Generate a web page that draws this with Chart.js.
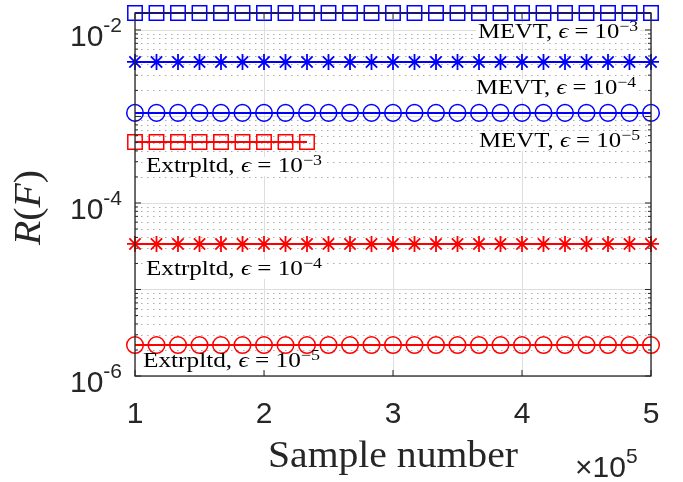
<!DOCTYPE html>
<html>
<head>
<meta charset="utf-8">
<script src="https://cdn.jsdelivr.net/npm/chart.js@4.4.0/dist/chart.umd.min.js"></script>
<style>
html, body { margin: 0; padding: 0; background: #fff; }
#wrap { width: 683px; height: 482px; }
</style>
</head>
<body>
<div id="wrap"><canvas id="chart"></canvas></div>
<script>
/* DATA */

// sample number axis (x)
var sampleNumbers = [100000, 116667, 133333, 150000, 166667, 183333, 200000, 216667, 233333,
    250000, 266667, 283333, 300000, 316667, 333333, 350000, 366667, 383333, 400000,
    416667, 433333, 450000, 466667, 483333, 500000];
var sampleNumbersShort = [100000, 116667, 133333, 150000, 166667, 183333, 200000, 216667, 233333];

// R(F) per series
var mevtEps3 = [0.0157, 0.0157, 0.0157, 0.0157, 0.0157, 0.0157, 0.0157, 0.0157, 0.0157, 0.0157,
    0.0157, 0.0157, 0.0157, 0.0157, 0.0157, 0.0157, 0.0157, 0.0157, 0.0157, 0.0157,
    0.0157, 0.0157, 0.0157, 0.0157, 0.0157];
var mevtEps4 = [0.00427, 0.00427, 0.00427, 0.00427, 0.00427, 0.00427, 0.00427, 0.00427, 0.00427, 0.00427,
    0.00427, 0.00427, 0.00427, 0.00427, 0.00427, 0.00427, 0.00427, 0.00427, 0.00427, 0.00427,
    0.00427, 0.00427, 0.00427, 0.00427, 0.00427];
var mevtEps5 = [0.00110, 0.00110, 0.00110, 0.00110, 0.00110, 0.00110, 0.00110, 0.00110, 0.00110, 0.00110,
    0.00110, 0.00110, 0.00110, 0.00110, 0.00110, 0.00110, 0.00110, 0.00110, 0.00110, 0.00110,
    0.00110, 0.00110, 0.00110, 0.00110, 0.00110];
var extrpEps3 = [0.000507, 0.000507, 0.000507, 0.000507, 0.000507, 0.000507, 0.000507, 0.000507, 0.000507];
var extrpEps4 = [0.0000336, 0.0000336, 0.0000336, 0.0000336, 0.0000336, 0.0000336, 0.0000336, 0.0000336, 0.0000336, 0.0000336,
    0.0000336, 0.0000336, 0.0000336, 0.0000336, 0.0000336, 0.0000336, 0.0000336, 0.0000336, 0.0000336, 0.0000336,
    0.0000336, 0.0000336, 0.0000336, 0.0000336, 0.0000336];
var extrpEps5 = [0.00000228, 0.00000228, 0.00000228, 0.00000228, 0.00000228, 0.00000228, 0.00000228, 0.00000228, 0.00000228, 0.00000228,
    0.00000228, 0.00000228, 0.00000228, 0.00000228, 0.00000228, 0.00000228, 0.00000228, 0.00000228, 0.00000228, 0.00000228,
    0.00000228, 0.00000228, 0.00000228, 0.00000228, 0.00000228];

// ticks
var xTickValues = [100000, 200000, 300000, 400000, 500000];
var xTickLabels = ['1', '2', '3', '4', '5'];
var yTickValues = [1e-2, 1e-4, 1e-6];
var yTickExps = ['-2', '-4', '-6'];
var yDecades = [1e-6, 1e-5, 1e-4, 1e-3, 1e-2];
var yMinorSteps = [2, 3, 4, 5, 6, 7, 8, 9];

// annotations
var noteLabels = ['MEVT', 'MEVT', 'MEVT', 'Extrpltd', 'Extrpltd', 'Extrpltd'];
var noteExps = ['\u22123', '\u22124', '\u22125', '\u22123', '\u22124', '\u22125'];

/* LAYOUT (pixels) */

var notePlace = [
    { x: 478, y: 38, w: 160 },
    { x: 476, y: 94, w: 160 },
    { x: 479, y: 147, w: 161 },
    { x: 146, y: 172, w: 176 },
    { x: 146, y: 275, w: 176 },
    { x: 143, y: 367, w: 177 }
];

var AXIS_COLOR = '#262626';
var SANS = '"Liberation Sans", Arial, sans-serif';
var SERIF = '"Liberation Serif", "DejaVu Serif", serif';

function MakeSet(xs, ys, color, style, radius, markerWidth) {
    return {
        data: xs.map(function (x, i) { return { x: x, y: ys[i] }; }),
        borderColor: color,
        backgroundColor: color,
        borderWidth: 2,
        pointStyle: style,
        pointRadius: radius,
        pointHoverRadius: radius,
        pointBorderColor: color,
        pointBackgroundColor: 'rgba(0,0,0,0)',
        pointBorderWidth: markerWidth,
        clip: false
    };
}

function Line(ctx, x1, y1, x2, y2) {
    ctx.beginPath();
    ctx.moveTo(x1, y1);
    ctx.lineTo(x2, y2);
    ctx.stroke();
}

// text made of several runs (fonts / raised superscripts)
function RichWidth(ctx, parts) {
    var w = 0;
    parts.forEach(function (p) { ctx.font = p.font; w += ctx.measureText(p.t).width; });
    return w;
}

function DrawRich(ctx, parts, x, y, targetW) {
    var w = RichWidth(ctx, parts);
    var k = targetW ? targetW / w : 1;
    ctx.save();
    ctx.translate(x, y);
    ctx.scale(k, 1);
    ctx.textAlign = 'left';
    ctx.textBaseline = 'alphabetic';
    var cx = 0;
    parts.forEach(function (p) {
        ctx.font = p.font;
        ctx.fillText(p.t, cx, -(p.rise || 0));
        cx += ctx.measureText(p.t).width;
    });
    ctx.restore();
}

function NoteParts(i) {
    return [
        { t: noteLabels[i] + ', ', font: '21px ' + SERIF },
        { t: '\u03f5', font: 'italic 21px ' + SERIF },
        { t: ' = 10', font: '21px ' + SERIF },
        { t: noteExps[i], font: '15px ' + SERIF, rise: 7 }
    ];
}

var matlabAxes = {
    id: 'matlabAxes',
    beforeDatasetsDraw: function (chart) {
        var ctx = chart.ctx, a = chart.chartArea;
        var xs = chart.scales.x, ys = chart.scales.y;
        ctx.save();

        // minor y grid (dotted)
        ctx.strokeStyle = '#adadad';
        ctx.lineWidth = 1;
        ctx.setLineDash([1.5, 4.5]);
        yDecades.forEach(function (d) {
            yMinorSteps.forEach(function (m) {
                var v = d * m;
                if (v >= ys.max) return;
                var py = Math.round(ys.getPixelForValue(v)) + 0.5;
                Line(ctx, a.left, py, a.right, py);
            });
        });
        ctx.setLineDash([]);

        // major grid
        ctx.strokeStyle = '#dedede';
        yDecades.forEach(function (d) {
            var py = Math.round(ys.getPixelForValue(d)) + 0.5;
            Line(ctx, a.left, py, a.right, py);
        });
        xTickValues.forEach(function (v) {
            var px = Math.round(xs.getPixelForValue(v)) + 0.5;
            Line(ctx, px, a.top, px, a.bottom);
        });

        // white boxes behind the annotations
        ctx.fillStyle = '#fff';
        notePlace.forEach(function (p) {
            ctx.fillRect(p.x - 2, p.y - 15, p.w + 4, 19);
        });
        ctx.restore();
    },
    afterDatasetsDraw: function (chart) {
        var ctx = chart.ctx, a = chart.chartArea;
        var xs = chart.scales.x, ys = chart.scales.y;
        ctx.save();
        ctx.strokeStyle = AXIS_COLOR;
        ctx.lineWidth = 1.3;
        ctx.strokeRect(a.left, a.top, a.right - a.left, a.bottom - a.top);

        // y ticks (left + right), major and minor
        ctx.lineWidth = 1;
        yDecades.forEach(function (d) {
            var py = ys.getPixelForValue(d);
            Line(ctx, a.left, py, a.left + 6, py);
            Line(ctx, a.right, py, a.right - 6, py);
            yMinorSteps.forEach(function (m) {
                var v = d * m;
                if (v >= ys.max) return;
                var pm = ys.getPixelForValue(v);
                Line(ctx, a.left, pm, a.left + 3, pm);
                Line(ctx, a.right, pm, a.right - 3, pm);
            });
        });
        // x ticks (bottom + top)
        xTickValues.forEach(function (v) {
            var px = xs.getPixelForValue(v);
            Line(ctx, px, a.bottom, px, a.bottom - 6);
            Line(ctx, px, a.top, px, a.top + 6);
        });

        // annotations
        ctx.fillStyle = '#000';
        notePlace.forEach(function (p, i) {
            DrawRich(ctx, NoteParts(i), p.x, p.y, p.w);
        });

        // tick labels
        ctx.fillStyle = AXIS_COLOR;
        ctx.textBaseline = 'alphabetic';
        ctx.textAlign = 'center';
        ctx.font = '30px ' + SANS;
        xTickValues.forEach(function (v, i) {
            ctx.fillText(xTickLabels[i], xs.getPixelForValue(v), 423);
        });
        yTickValues.forEach(function (v, i) {
            var py = ys.getPixelForValue(v);
            ctx.font = '21px ' + SANS;
            var we = ctx.measureText(yTickExps[i]).width;
            ctx.font = '30px ' + SANS;
            var wb = ctx.measureText('10').width;
            var right = a.left - 13;
            DrawRich(ctx, [
                { t: '10', font: '30px ' + SANS },
                { t: yTickExps[i], font: '21px ' + SANS, rise: 14 }
            ], right - we - wb, py + 16);
        });

        // x10^5 multiplier
        DrawRich(ctx, [
            { t: '\u00d710', font: '30px ' + SANS },
            { t: '5', font: '21px ' + SANS, rise: 14 }
        ], 575, 477);

        // axis titles
        DrawRich(ctx, [{ t: 'Sample number', font: '37px ' + SERIF }], 268, 467, 250);

        ctx.save();
        ctx.translate(40, 208);
        ctx.rotate(-Math.PI / 2);
        var rf = [
            { t: 'R', font: 'italic 38px ' + SERIF },
            { t: '(', font: '38px ' + SERIF },
            { t: 'F', font: 'italic 38px ' + SERIF },
            { t: ')', font: '38px ' + SERIF }
        ];
        DrawRich(ctx, rf, -37, 0, 75);
        ctx.restore();

        ctx.restore();
    }
};

var ctx = document.getElementById('chart').getContext('2d');

var myChart = new Chart(ctx, {
    type: 'line',
    data: {
        datasets: [
            MakeSet(sampleNumbers, mevtEps3, '#0000ff', 'rect', 10.2, 1.5),
            MakeSet(sampleNumbers, mevtEps4, '#0000ff', 'star', 8, 1.8),
            MakeSet(sampleNumbers, mevtEps5, '#0000ff', 'circle', 8.3, 1.5),
            MakeSet(sampleNumbersShort, extrpEps3, '#ff0000', 'rect', 10.2, 1.5),
            MakeSet(sampleNumbers, extrpEps4, '#ff0000', 'star', 8, 1.8),
            MakeSet(sampleNumbers, extrpEps5, '#ff0000', 'circle', 8.3, 1.5)
        ]
    },
    options: {
        responsive: true,
        maintainAspectRatio: false,
        animation: false,
        events: [],
        layout: {
            autoPadding: false,
            padding: { left: 0, right: 32, top: 13, bottom: 0 }
        },
        scales: {
            x: {
                type: 'linear',
                min: 100000,
                max: 500000,
                grid: { display: false },
                border: { display: false },
                ticks: { display: false },
                afterFit: function (scale) { scale.height = 106; }
            },
            y: {
                type: 'logarithmic',
                min: 1e-6,
                max: 0.0157,
                grid: { display: false },
                border: { display: false },
                ticks: { display: false },
                afterFit: function (scale) { scale.width = 135; }
            }
        },
        plugins: {
            legend: { display: false },
            tooltip: { enabled: false }
        }
    },
    plugins: [matlabAxes]
});
</script>
</body>
</html>
